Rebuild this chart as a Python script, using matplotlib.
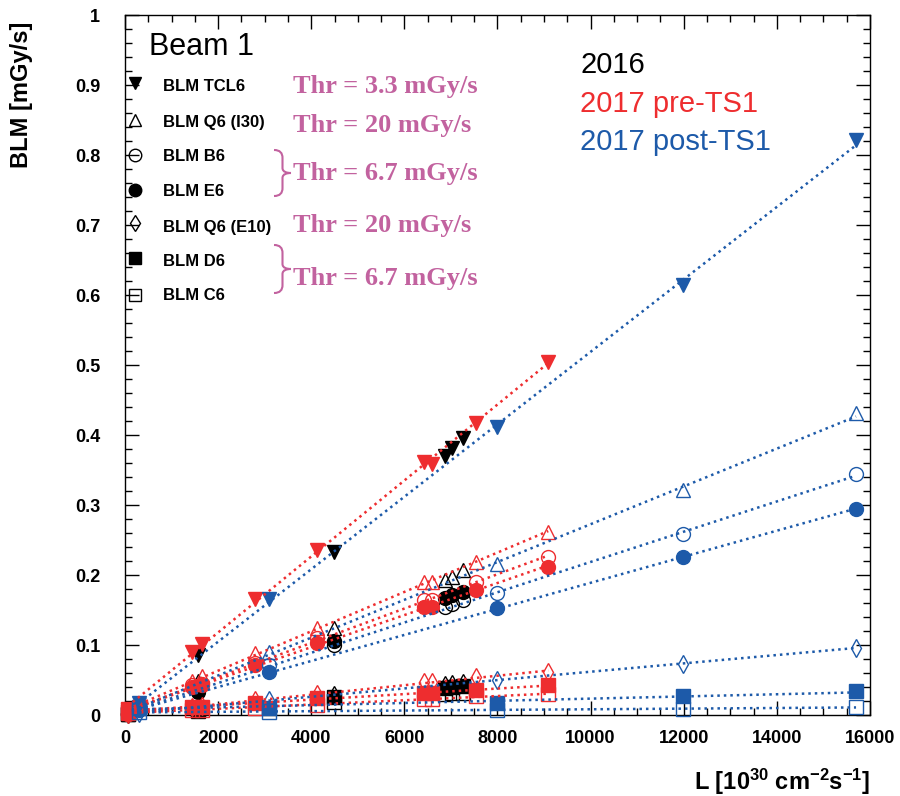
import matplotlib
matplotlib.use("Agg")
import matplotlib.pyplot as plt
import numpy as np
from matplotlib.path import Path
from matplotlib.patches import PathPatch
from matplotlib.ticker import MultipleLocator

plt.rcParams['font.family'] = ['Liberation Sans', 'DejaVu Sans']
plt.rcParams['mathtext.fontset'] = 'custom'
plt.rcParams['mathtext.rm'] = 'Liberation Sans:bold'
plt.rcParams['mathtext.bf'] = 'Liberation Sans:bold'
plt.rcParams['mathtext.it'] = 'Liberation Sans:bold'

# ---------------- data ----------------
blm_names = ["BLM TCL6", "BLM Q6 (I30)", "BLM B6", "BLM E6", "BLM Q6 (E10)", "BLM D6", "BLM C6"]
thr_labels = ["Thr = 3.3 mGy/s", "Thr = 20 mGy/s", "Thr = 6.7 mGy/s", "Thr = 20 mGy/s", "Thr = 6.7 mGy/s"]
period_names = ["2016", "2017 pre-TS1", "2017 post-TS1"]

lumi_2016 = [60, 1570, 4490, 6870, 7020, 7260]
lumi_pre = [60, 1440, 1650, 2790, 4120, 6420, 6590, 7540, 9090]
lumi_post = [300, 3100, 7990, 11990, 15700]

blm_2016 = {
    "BLM TCL6":     [0.007, 0.086, 0.233, 0.370, 0.381, 0.396],
    "BLM Q6 (I30)": [0.003, 0.048, 0.124, 0.193, 0.197, 0.207],
    "BLM B6":       [0.002, 0.036, 0.100, 0.154, 0.158, 0.164],
    "BLM E6":       [0.002, 0.033, 0.106, 0.167, 0.172, 0.176],
    "BLM Q6 (E10)": [0.001, 0.010, 0.028, 0.043, 0.045, 0.046],
    "BLM D6":       [0.001, 0.008, 0.026, 0.039, 0.040, 0.041],
    "BLM C6":       [0.001, 0.006, 0.018, 0.030, 0.031, 0.032],
}
blm_pre = {
    "BLM TCL6":     [0.005, 0.090, 0.101, 0.166, 0.236, 0.361, 0.359, 0.417, 0.504],
    "BLM Q6 (I30)": [0.003, 0.049, 0.056, 0.088, 0.124, 0.190, 0.190, 0.219, 0.261],
    "BLM B6":       [0.002, 0.043, 0.045, 0.074, 0.110, 0.164, 0.164, 0.190, 0.226],
    "BLM E6":       [0.002, 0.040, 0.043, 0.071, 0.103, 0.154, 0.154, 0.179, 0.211],
    "BLM Q6 (E10)": [0.001, 0.012, 0.013, 0.021, 0.030, 0.047, 0.047, 0.054, 0.061],
    "BLM D6":       [0.008, 0.011, 0.011, 0.017, 0.024, 0.031, 0.031, 0.036, 0.043],
    "BLM C6":       [0.005, 0.007, 0.007, 0.010, 0.014, 0.023, 0.023, 0.027, 0.030],
}
blm_post = {
    "BLM TCL6":     [0.017, 0.166, 0.411, 0.614, 0.821],
    "BLM Q6 (I30)": [0.010, 0.090, 0.216, 0.321, 0.431],
    "BLM B6":       [0.008, 0.072, 0.174, 0.259, 0.344],
    "BLM E6":       [0.007, 0.061, 0.153, 0.226, 0.294],
    "BLM Q6 (E10)": [0.003, 0.022, 0.050, 0.073, 0.096],
    "BLM D6":       [0.012, 0.010, 0.017, 0.027, 0.034],
    "BLM C6":       [0.004, 0.005, 0.007, 0.009, 0.011],
}

# ---------------- style ----------------
col_2016 = "black"
col_pre = "#ee2d2f"
col_post = "#1d5aa9"
thr_col = "#c2629f"

marker_style = {
    "BLM TCL6":     dict(marker="v", filled=True, ms=10),
    "BLM Q6 (I30)": dict(marker="^", filled=False, ms=10),
    "BLM B6":       dict(marker="o", filled=False, ms=10),
    "BLM E6":       dict(marker="o", filled=True, ms=10),
    "BLM Q6 (E10)": dict(marker="d", filled=False, ms=9),
    "BLM D6":       dict(marker="s", filled=True, ms=10),
    "BLM C6":       dict(marker="s", filled=False, ms=10),
}

W, H = 900, 796
fig = plt.figure(figsize=(W / 100, H / 100), dpi=100)
L_px, R_px, T_px, B_px = 125, 870, 15, 715
ax = fig.add_axes([L_px / W, 1 - B_px / H, (R_px - L_px) / W, (B_px - T_px) / H])


def draw_period(lumi, data, color, with_fit):
    x = np.array(lumi, dtype=float)
    for name in blm_names:
        st = marker_style[name]
        y = np.array(data[name], dtype=float)
        ax.plot(x, y, linestyle="none", marker=st["marker"], ms=st["ms"],
                mfc=color if st["filled"] else "none", mec=color, mew=1.0,
                zorder=3, clip_on=False)
        if with_fit:
            p = np.polyfit(x, y, 1)
            xf = np.array([x.min(), x.max()])
            ax.plot(xf, np.polyval(p, xf), color=color, lw=1.8,
                    linestyle=(0, (1, 1.6)), zorder=4)


draw_period(lumi_2016, blm_2016, col_2016, False)
draw_period(lumi_pre, blm_pre, col_pre, True)
draw_period(lumi_post, blm_post, col_post, True)

ax.set_xlim(0, 16000)
ax.set_ylim(0, 1)
ax.xaxis.set_major_locator(MultipleLocator(2000))
ax.xaxis.set_minor_locator(MultipleLocator(500))
ax.yaxis.set_major_locator(MultipleLocator(0.1))
ax.yaxis.set_minor_locator(MultipleLocator(0.02))
ax.tick_params(which="both", direction="in", top=True, right=True, width=1.0)
ax.tick_params(which="major", length=10)
ax.tick_params(which="minor", length=5)
ax.tick_params(axis="y", which="major", pad=18, labelsize=13)
ax.tick_params(axis="x", which="major", pad=11, labelsize=13)
for lab in ax.get_xticklabels() + ax.get_yticklabels():
    lab.set_fontweight("bold")
ax.yaxis.set_major_formatter(plt.FuncFormatter(lambda v, p: "0" if abs(v) < 1e-9 else ("1" if abs(v - 1) < 1e-9 else f"{v:.1f}")))
for sp in ax.spines.values():
    sp.set_linewidth(1.0)

# axis titles
fig.text(22 / W, 1 - 95 / H, "BLM [mGy/s]", rotation=90, ha="center", va="center",
         fontsize=17, fontweight="bold")
fig.text(870 / W, 1 - 790 / H, r"L [10$^{30}$ cm$^{-2}$s$^{-1}$]", ha="right", va="baseline",
         fontsize=17, fontweight="bold")


def ax_frac(px, py):
    return (px - L_px) / (R_px - L_px), (B_px - py) / (B_px - T_px)


# Beam label
ax.text(*ax_frac(149, 55), "Beam 1", fontsize=22, ha="left", va="baseline", transform=ax.transAxes)

# legend (manual)
leg_marker_y = [83, 120, 155, 190, 223, 258, 295]
leg_text_base = [91, 127, 161, 196, 232, 266, 300]
for name, my, ty in zip(blm_names, leg_marker_y, leg_text_base):
    st = marker_style[name]
    ax.plot(*ax_frac(135, my), marker=st["marker"], ms=st["ms"] - 1,
            mfc="black" if st["filled"] else "none", mec="black", mew=1.0,
            transform=ax.transAxes, clip_on=False, zorder=5)
    ax.text(*ax_frac(163, ty), name, fontsize=12, fontweight="bold",
            ha="left", va="baseline", transform=ax.transAxes)

# thresholds
thr_base = [93, 132, 180, 232, 285]
for lab, ty in zip(thr_labels, thr_base):
    ax.text(*ax_frac(293, ty), lab, fontsize=19, fontweight="bold", color=thr_col,
            family=["Liberation Serif", "DejaVu Serif"], ha="left", va="baseline",
            transform=ax.transAxes)


def brace(y0, y1, x0=274, x1=291):
    ym = 0.5 * (y0 + y1)
    xm = x0 + 0.5 * (x1 - x0)
    pts = [(x0, y0), (x0 + 6, y0), (xm, y0 + 3), (xm, y0 + 8),
           (xm, ym - 5),
           (xm, ym - 1), (x1 - 4, ym), (x1, ym),
           (x1 - 4, ym), (xm, ym + 1), (xm, ym + 5),
           (xm, y1 - 8),
           (xm, y1 - 3), (x0 + 6, y1), (x0, y1)]
    codes = [Path.MOVETO, Path.CURVE4, Path.CURVE4, Path.CURVE4,
             Path.LINETO,
             Path.CURVE4, Path.CURVE4, Path.CURVE4,
             Path.CURVE4, Path.CURVE4, Path.CURVE4,
             Path.LINETO,
             Path.CURVE4, Path.CURVE4, Path.CURVE4]
    verts = [ax_frac(px, py) for px, py in pts]
    ax.add_patch(PathPatch(Path(verts, codes), fill=False, edgecolor=thr_col, lw=1.5,
                           transform=ax.transAxes, clip_on=False))


brace(150, 196)
brace(245, 293)

# period labels
for lab, col, by in zip(period_names, [col_2016, col_pre, col_post], [73, 112, 150]):
    ax.text(*ax_frac(580, by), lab, fontsize=21, color=col, ha="left", va="baseline",
            transform=ax.transAxes)

fig.savefig("out.png", dpi=100)
